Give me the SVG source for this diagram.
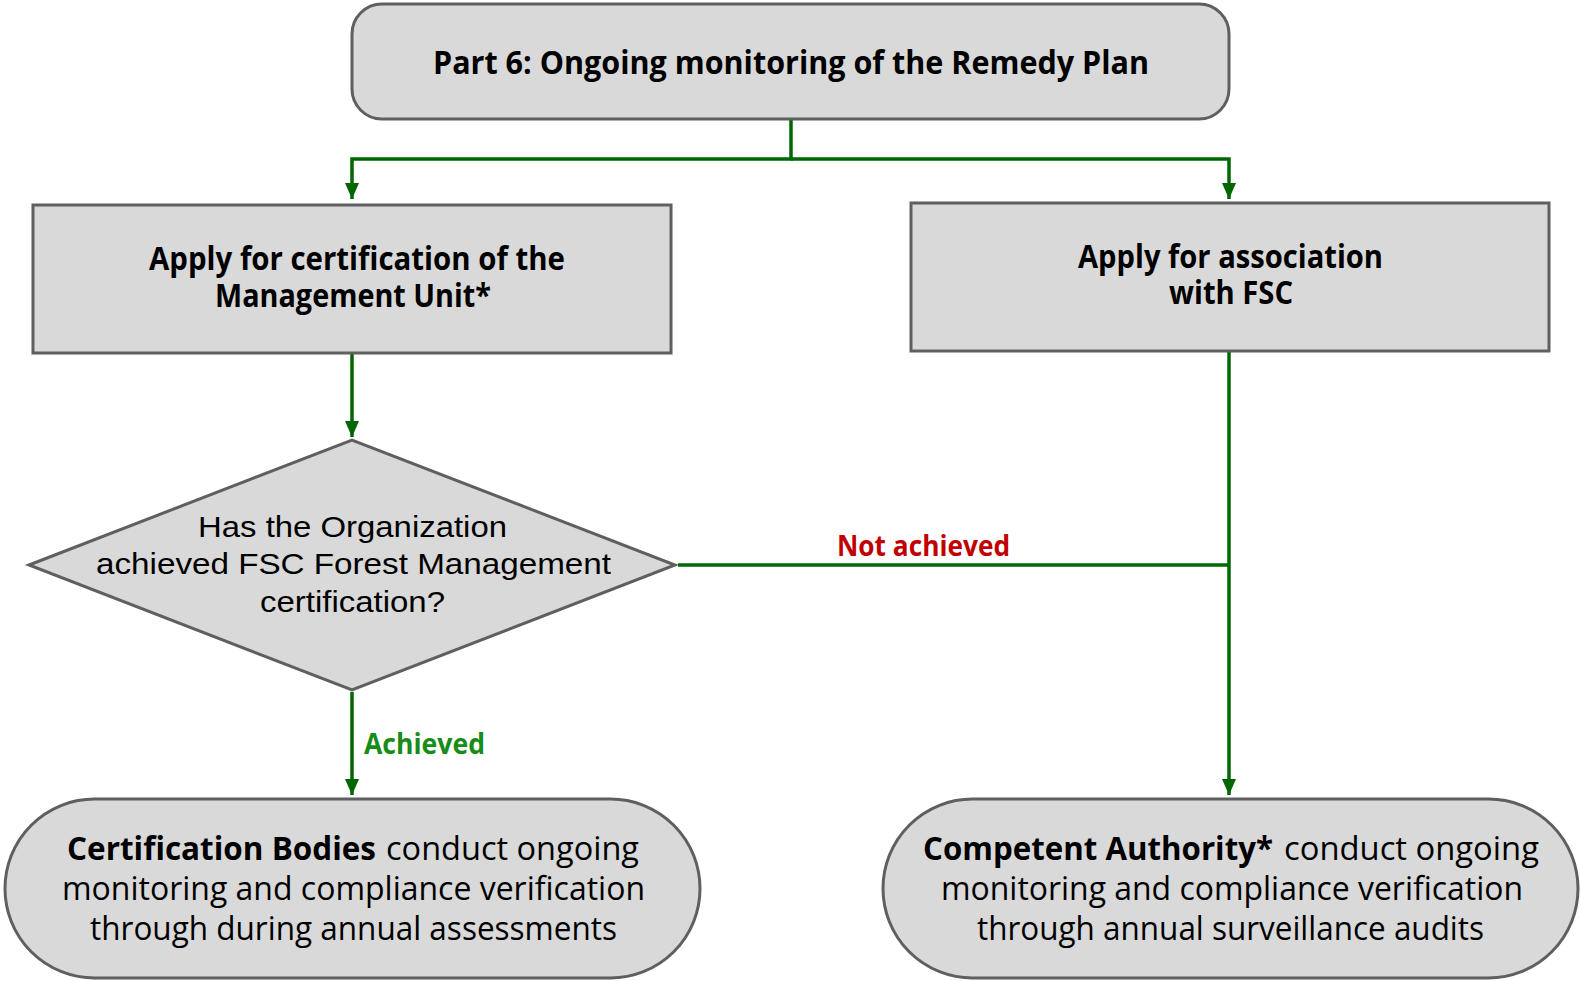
<svg xmlns="http://www.w3.org/2000/svg" width="1580" height="981" viewBox="0 0 1580 981">
<style>
.box{fill:#d9d9d9;stroke:#5f5f5f;stroke-width:3}
.conn{fill:none;stroke:#006600;stroke-width:3.5}
.b{font-family:"Open Sans","Liberation Sans",sans-serif;font-weight:bold;font-size:32px;fill:#000}
.r{font-family:"Open Sans","Liberation Sans",sans-serif;font-size:33px;fill:#000}
.q{font-family:"Liberation Sans",Arial,sans-serif;font-size:29px;fill:#000}
.lbl{font-family:"Open Sans","Liberation Sans",sans-serif;font-weight:bold;font-size:28px}
</style>
<defs>
<marker id="ah" markerUnits="userSpaceOnUse" markerWidth="16" markerHeight="16" viewBox="0 0 16 16" refX="16" refY="8" orient="auto">
<path d="M0,1 L16,8 L0,15 Z" fill="#006600"/>
</marker>
</defs>
<rect width="1580" height="981" fill="#ffffff"/>
<g id="connectors">
<polyline class="conn" points="791,119 791,159 352,159 352,199" marker-end="url(#ah)"/>
<polyline class="conn" points="791,159 1229,159 1229,199" marker-end="url(#ah)"/>
<line class="conn" x1="352" y1="354" x2="352" y2="437" marker-end="url(#ah)"/>
<line class="conn" x1="1229" y1="352" x2="1229" y2="795" marker-end="url(#ah)"/>
<line class="conn" x1="678" y1="565" x2="1229" y2="565"/>
<line class="conn" x1="352" y1="692" x2="352" y2="795" marker-end="url(#ah)"/>
<text class="lbl" x="837" y="556" fill="#c00000" textLength="173" lengthAdjust="spacingAndGlyphs">Not achieved</text>
<text class="lbl" x="364" y="754" fill="#178c17" textLength="121" lengthAdjust="spacingAndGlyphs">Achieved</text>
</g>
<g id="top">
<rect class="box" x="352" y="4" width="877" height="115" rx="30"/>
<text class="b" x="433" y="74" textLength="716" lengthAdjust="spacingAndGlyphs">Part 6: Ongoing monitoring of the Remedy Plan</text>
</g>
<g id="apply-cert">
<rect class="box" x="33" y="205" width="638" height="148"/>
<text class="b" x="149" y="270" textLength="416" lengthAdjust="spacingAndGlyphs">Apply for certification of the</text>
<text class="b" x="215" y="307" textLength="276" lengthAdjust="spacingAndGlyphs">Management Unit*</text>
</g>
<g id="apply-assoc">
<rect class="box" x="911" y="203" width="638" height="148"/>
<text class="b" x="1078" y="268" textLength="305" lengthAdjust="spacingAndGlyphs">Apply for association</text>
<text class="b" x="1169" y="304" textLength="124" lengthAdjust="spacingAndGlyphs">with FSC</text>
</g>
<g id="decision">
<polygon class="box" points="29,565 352,440 675,565 352,690"/>
<text class="q" x="198" y="537" textLength="309" lengthAdjust="spacingAndGlyphs">Has the Organization</text>
<text class="q" x="96" y="574" textLength="515" lengthAdjust="spacingAndGlyphs">achieved FSC Forest Management</text>
<text class="q" x="260" y="612" textLength="185" lengthAdjust="spacingAndGlyphs">certification?</text>
</g>
<g id="cert-bodies">
<rect class="box" x="5" y="799" width="695" height="179" rx="89.5"/>
<text class="b" x="67" y="860" style="font-size:33px" textLength="309" lengthAdjust="spacingAndGlyphs">Certification Bodies</text>
<text class="r" x="386" y="860" textLength="253" lengthAdjust="spacingAndGlyphs">conduct ongoing</text>
<text class="r" x="62" y="900" textLength="583" lengthAdjust="spacingAndGlyphs">monitoring and compliance verification</text>
<text class="r" x="90" y="940" textLength="527" lengthAdjust="spacingAndGlyphs">through during annual assessments</text>
</g>
<g id="competent-authority">
<rect class="box" x="883" y="799" width="695" height="179" rx="89.5"/>
<text class="b" x="923" y="860" style="font-size:33px" textLength="350" lengthAdjust="spacingAndGlyphs">Competent Authority*</text>
<text class="r" x="1284" y="860" textLength="255" lengthAdjust="spacingAndGlyphs">conduct ongoing</text>
<text class="r" x="941" y="900" textLength="582" lengthAdjust="spacingAndGlyphs">monitoring and compliance verification</text>
<text class="r" x="977" y="940" textLength="507" lengthAdjust="spacingAndGlyphs">through annual surveillance audits</text>
</g>
</svg>
